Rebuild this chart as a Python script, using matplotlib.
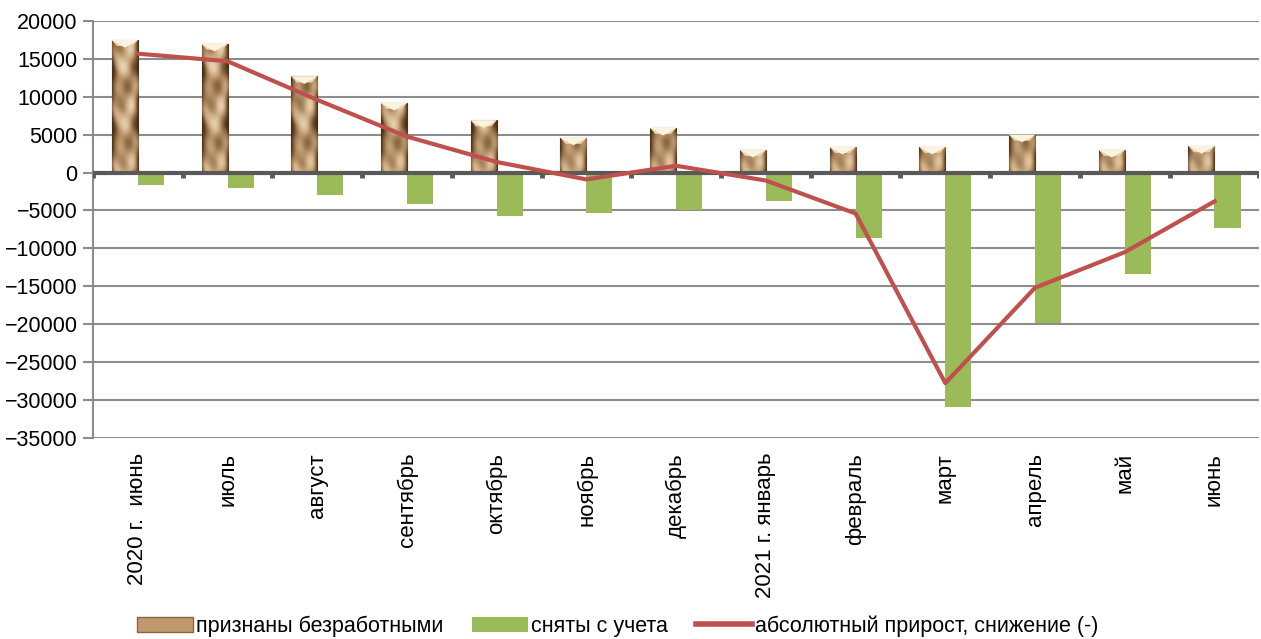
import numpy as np
import matplotlib.pyplot as plt
from matplotlib.colors import LinearSegmentedColormap
from matplotlib.patches import Patch
from matplotlib.lines import Line2D

plt.rcParams['font.family'] = ['Liberation Sans', 'DejaVu Sans']

months = ["2020 г.  июнь", "июль", "август", "сентябрь", "октябрь", "ноябрь",
          "декабрь", "2021 г. январь", "февраль", "март", "апрель", "май", "июнь"]
registered = [17500, 17000, 12700, 9200, 6900, 4600, 5900, 3000, 3400, 3400, 5000, 3000, 3500]
removed = [-1700, -2100, -2900, -4200, -5700, -5300, -4900, -3800, -8700, -31000, -19800, -13400, -7300]
net_change = [15700, 14700, 9600, 4750, 1400, -900, 900, -1050, -5400, -27800, -15200, -10500, -3800]

tan = '#c09a6e'
green = '#9bbb59'
red = '#c0504d'
grid_c = '#8c8c8c'

# crumpled-paper texture for the "registered" bars (style only)
yy, xx = np.mgrid[0:140, 0:26]
tex = (np.sin(yy / 9.0 + 2.0 * np.sin(xx / 6.0)) + 0.7 * np.sin(yy / 4.5 + xx / 3.5)
       + 0.5 * np.cos(xx / 3.0 - yy / 11.0))
tex = (tex - tex.min()) / (tex.max() - tex.min())
edge = np.abs(xx - 12.5) / 12.5
tex = np.clip(0.3 + 0.65 * tex - 0.55 * edge ** 4, 0, 1)
wood = LinearSegmentedColormap.from_list('wood', ['#4a2f16', '#8c6842', '#c8a57c', '#eedcbc'])

fig = plt.figure(figsize=(12.61, 6.39), dpi=100)
ax = fig.add_axes([0.0737, 0.315, 0.925, 0.652])

x = np.arange(len(months))
w = 0.29
bars = ax.bar(x - w / 2, registered, w, color=tan, edgecolor='#5e4226', lw=0.8, zorder=2)
for b in bars:
    x0, h = b.get_x(), b.get_height()
    rows = max(int(round(h / 130)), 2)
    im = ax.imshow(tex[:rows], cmap=wood, vmin=0, vmax=1,
                   extent=[x0, x0 + b.get_width(), 0, h],
                   aspect='auto', origin='lower', zorder=2.1, interpolation='bicubic')
    im.set_clip_path(b)
    # light bevel at the top of the bar
    ax.fill([x0, x0 + b.get_width(), x0 + b.get_width() * 0.8, x0 + b.get_width() * 0.2],
            [h, h, h - 800, h - 800], color='#e9d3ad', zorder=2.2, lw=0)
    ax.fill([x0, x0 + b.get_width(), x0 + b.get_width() / 2],
            [h, h, h - 1000], color='#fbf3e2', zorder=2.3, lw=0)

ax.bar(x + w / 2, removed, w, color=green, zorder=2)
ax.plot(x, net_change, color=red, lw=3, zorder=4)

ax.set_xlim(-0.5, len(months) - 0.5)
ax.set_ylim(-35000, 20000)
ax.set_yticks(np.arange(-35000, 20001, 5000))
ax.yaxis.grid(True, color=grid_c, lw=1.5, zorder=0)
ax.set_axisbelow(True)
ax.axhline(0, color='#595959', lw=3, zorder=3)
ax.vlines(np.arange(len(months) + 1) - 0.5, -650, 0, color='#595959', lw=3.5, zorder=3)

for s in ['top', 'right', 'bottom']:
    ax.spines[s].set_visible(False)
ax.spines['left'].set_color(grid_c)
ax.spines['left'].set_linewidth(1.5)

ax.set_xticks(x)
ax.set_xticklabels(months, rotation=90, va='top', ha='center', fontsize=16)
ax.tick_params(axis='x', length=0, pad=11)
ax.tick_params(axis='y', length=7, width=1.5, color=grid_c, labelsize=15.5, pad=4)

handles = [Patch(facecolor=tan, edgecolor='#8a6640'),
           Patch(facecolor=green),
           Line2D([0], [0], color=red, lw=4)]
labels = ["признаны безработными", "сняты с учета", "абсолютный прирост, снижение (-)"]
fig.legend(handles, labels, loc='center', bbox_to_anchor=(0.49, 0.02), ncol=3,
           frameon=False, fontsize=15.5, handlelength=2.6, handleheight=0.75,
           columnspacing=1.3, handletextpad=0.15)

fig.savefig('out.png', dpi=100)
